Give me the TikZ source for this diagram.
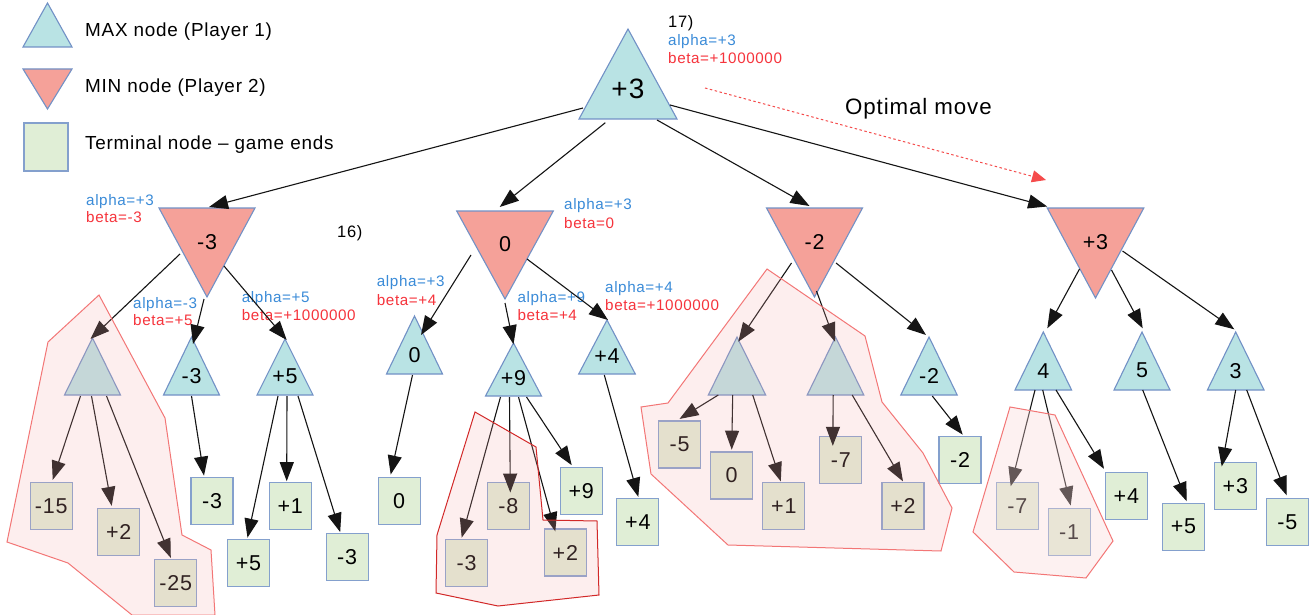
\documentclass[tikz,border=0pt]{standalone}
\usepackage{fontspec}
\setmainfont{Liberation Sans}[LetterSpace=4]
\usetikzlibrary{arrows.meta,calc}

\definecolor{maxfill}{RGB}{185,227,228}
\definecolor{minfill}{RGB}{245,161,153}
\definecolor{termfill}{RGB}{224,238,214}
\definecolor{shapeline}{RGB}{114,145,198}
\definecolor{boxline}{RGB}{132,160,205}
\definecolor{alphablue}{RGB}{58,139,216}
\definecolor{betared}{RGB}{246,52,60}
\definecolor{prunefill}{RGB}{245,170,170}
\definecolor{prunelight}{RGB}{252,215,215}
\definecolor{pruneline}{RGB}{243,118,118}
\definecolor{prunedark}{RGB}{210,40,40}
\definecolor{optred}{RGB}{245,75,75}

\tikzset{
  maxshape/.style={fill=maxfill, draw=shapeline, line width=1.1pt},
  minshape/.style={fill=minfill, draw=shapeline, line width=1.1pt},
  vallabel/.style={inner sep=0pt, font=\fontsize{21.5}{25}\selectfont},
  rootlabel/.style={font=\fontsize{28}{32}\selectfont},
  term/.style={draw=boxline, fill=termfill, line width=1.3pt, minimum width=42pt,
    minimum height=47pt, inner sep=0pt, font=\fontsize{21.5}{25}\selectfont},
  txt/.style={inner sep=0pt, anchor=base west},
  legendtxt/.style={txt, font=\fontsize{18.9}{22}\selectfont},
  abtxt/.style={txt, font=\fontsize{15.2}{18}\selectfont},
  alphatxt/.style={abtxt, text=alphablue},
  betatxt/.style={abtxt, text=betared},
  steptxt/.style={txt, font=\fontsize{16.5}{20}\selectfont},
  arr/.style={draw=black!92, line width=1.1pt, -{Triangle[length=19pt,width=14pt]}},
  optarrow/.style={draw=optred, line width=1pt, dash pattern=on 2.5pt off 2.5pt,
    -{Triangle[length=14pt,width=12pt]}},
  prune/.style={fill=prunefill, fill opacity=0.2, draw=pruneline, line width=1pt},
  prunestrong/.style={fill=prunefill, fill opacity=0.2, draw=prunedark, line width=1pt},
  prunesoft/.style={fill=prunelight, fill opacity=0.35, draw=pruneline, line width=1pt},
}

% MAX triangle (apex up): [label style]{name}{x}{y apex}{y base}{half width}{value}
\newcommand\maxtri[7][]{%
  \coordinate (#2-a) at (#3,#4);
  \coordinate (#2-l) at ({#3-#6},#5);
  \coordinate (#2-r) at ({#3+#6},#5);
  \path[maxshape] (#2-a) -- (#2-l) -- (#2-r) -- cycle;
  \node[vallabel,#1] (#2) at (#3,{#4+2*(#5-#4)/3}) {#7};
}
% MIN triangle (apex down): {name}{x}{y top}{y apex}{half width}{value}
\newcommand\mintri[6]{%
  \coordinate (#1-l) at ({#2-#5},#3);
  \coordinate (#1-r) at ({#2+#5},#3);
  \coordinate (#1-b) at (#2,#4);
  \path[minshape] (#1-l) -- (#1-r) -- (#1-b) -- cycle;
  \node[vallabel] (#1) at (#2,{#3+0.38*(#4-#3)}) {#6};
}

\begin{document}
\begin{tikzpicture}[x=1pt,y=-1pt]
\useasboundingbox (0,0) rectangle (1312,615);
\fill[white] (0,0) rectangle (1312,615);

% ---- legend ----
\maxtri{lgmax}{47.5}{3}{47}{24.5}{}
\mintri{lgmin}{47.5}{69}{109}{24.5}{}
\node[term, minimum width=44pt, minimum height=48pt] (lgterm) at (46,147) {};
\node[legendtxt] (lgmaxtxt) at (85,36.7) {MAX node (Player 1)};
\node[legendtxt] (lgmintxt) at (85,92.7) {MIN node (Player 2)};
\node[legendtxt] (lgtermtxt) at (85,149.3) {Terminal node – game ends};

% ---- tree nodes ----
\maxtri[rootlabel]{r}{628}{29}{119}{49}{+3}

\mintri{m1}{207}{208}{297}{48}{-3}
\mintri{m2}{505}{211}{299}{48.3}{0}
\mintri{m3}{814.5}{208}{297}{48}{-2}
\mintri{m4}{1095.5}{208}{298}{48.3}{+3}

\maxtri{g1}{92.5}{338}{395}{28}{}
\maxtri{c12}{191.5}{337}{395}{28}{-3}
\maxtri{c13}{285}{339}{395}{28}{+5}
\maxtri{c21}{414.5}{316}{374}{28}{0}
\maxtri{c22}{513.5}{343}{396}{28}{+9}
\maxtri{c23}{607}{320}{374}{28.3}{+4}
\maxtri{g31}{737}{337}{395}{28.7}{}
\maxtri{g32}{835.5}{337}{395}{28.3}{}
\maxtri{c33}{929}{337}{395}{28.2}{-2}
\maxtri{c41}{1043.3}{332}{390}{28.3}{4}
\maxtri{c42}{1142}{332}{390}{28}{5}
\maxtri{c43}{1235.7}{332}{390}{28.3}{3}

% terminal positions
\node[term] (t1) at (51.2,506) {-15};
\node[term] (t2) at (118.7,532) {+2};
\node[term] (t3) at (175.8,583) {-25};
\node[term] (t4) at (212,501.3) {-3};
\node[term] (t5) at (248.5,562.8) {+5};
\node[term] (t6) at (290.2,506.3) {+1};
\node[term] (t7) at (347.2,557.2) {-3};
\node[term] (t8) at (399.2,501.2) {0};
\node[term] (t9) at (466.7,562.8) {-3};
\node[term] (t10) at (508.3,506.2) {-8};
\node[term] (t11) at (565.3,552.5) {+2};
\node[term] (t12) at (581.2,490.8) {+9};
\node[term] (t13) at (637.8,521.7) {+4};
\node[term] (t14) at (679.5,444.5) {-5};
\node[term] (t15) at (731.7,475.5) {0};
\node[term] (t16) at (783.8,506.2) {+1};
\node[term] (t17) at (840.8,460) {-7};
\node[term] (t18) at (903,506.2) {+2};
\node[term] (t19) at (960,460) {-2};
\node[term] (t20) at (1017.3,506.2) {-7};
\node[term] (t21) at (1069.2,532) {-1};
\node[term] (t22) at (1126.3,496.2) {+4};
\node[term] (t23) at (1183.5,526.7) {+5};
\node[term] (t24) at (1235.3,485.8) {+3};
\node[term] (t25) at (1287.3,522) {-5};

% ---- annotations ----
\node[steptxt] (s17) at (668,27.5) {17)};
\node[alphatxt] (ra) at (668,45.5) {alpha=+3};
\node[betatxt] (rb) at (668,63.5) {beta=+1000000};
\node[txt, font=\fontsize{22.3}{27}\selectfont] (opt) at (845,115) {Optimal move};
\node[steptxt] (s16) at (337,237.5) {16)};

\node[alphatxt] (m1a) at (86,205.5) {alpha=+3};
\node[betatxt] (m1b) at (86,222) {beta=-3};
\node[alphatxt] (c12a) at (133,308) {alpha=-3};
\node[betatxt] (c12b) at (133,325) {beta=+5};
\node[alphatxt] (c13a) at (241.7,302) {alpha=+5};
\node[betatxt] (c13b) at (241.7,320.5) {beta=+1000000};
\node[alphatxt] (m2a) at (564,209.5) {alpha=+3};
\node[betatxt] (m2b) at (564,228) {beta=0};
\node[alphatxt] (c21a) at (376.7,286) {alpha=+3};
\node[betatxt] (c21b) at (376.7,305) {beta=+4};
\node[alphatxt] (c22a) at (517.3,302) {alpha=+9};
\node[betatxt] (c22b) at (517.3,320.5) {beta=+4};
\node[alphatxt] (c23a) at (605,292) {alpha=+4};
\node[betatxt] (c23b) at (605,310.5) {beta=+1000000};

% ---- connectors ----
% root
\draw[arr] ([shift={(4,-11)}]r-l) -- ([shift={(50,-1)}]m1-l);
\draw[arr, shorten <=6pt] ([shift={(31,0)}]r-l) -- ([shift={(43,-4)}]m2-l);
\draw[arr] ([shift={(78,1)}]r-l) -- ([shift={(43,-2)}]m3-l);
\draw[arr] ([shift={(-7,-14)}]r-r) -- ([shift={(0,-1.5)}]m4-l);
% first MIN node
\draw[arr] ([shift={(-27,-43)}]m1-b) -- ([shift={(-2,1)}]g1-a);
\draw[arr] ([shift={(-3,2)}]m1-b) -- ([shift={(1.5,7)}]c12-a);
\draw[arr] ([shift={(17,-31)}]m1-b) -- ([shift={(1.7,1)}]c13-a);
\draw[arr] ([shift={(16,1)}]g1-l) -- ([shift={(1.5,-2)}]t1.north);
\draw[arr] ([shift={(27,1)}]g1-l) -- ([shift={(-7,-2)}]t2.north);
\draw[arr] ([shift={(42,1)}]g1-l) -- ([shift={(-5,-1)}]t3.north);
\draw[arr] ([shift={(28,1)}]c12-l) -- ([shift={(-8,-1.5)}]t4.north);
\draw[arr] ([shift={(21,1)}]c13-l) -- ([shift={(-1,-1)}]t5.north);
\draw[arr] ([shift={(30,1)}]c13-l) -- ([shift={(-3.5,-1)}]t6.north);
\draw[arr] ([shift={(41,1)}]c13-l) -- ([shift={(-7,-1)}]t7.north);
% second MIN node
\draw[arr] ([shift={(-34,-44)}]m2-b) -- ([shift={(6.5,19)}]c21-a);
\draw[arr] ([shift={(0,4)}]m2-b) -- ([shift={(0,1.3)}]c22-a);
\draw[arr] ([shift={(22,-40)}]m2-b) -- ([shift={(1,0)}]c23-a);
\draw[arr] ([shift={(26,1)}]c21-l) -- ([shift={(-8.5,-2.5)}]t8.north);
\draw[arr] ([shift={(15,1)}]c22-l) -- ([shift={(-5,-1)}]t9.north);
\draw[arr] ([shift={(24,1)}]c22-l) -- ([shift={(2,10.5)}]t10.north);
\draw[arr] ([shift={(33,1)}]c22-l) -- ([shift={(-10,3)}]t11.north);
\draw[arr] ([shift={(41,1)}]c22-l) -- ([shift={(-9.5,-1.5)}]t12.north);
\draw[arr] ([shift={(25.6,1)}]c23-l) -- ([shift={(0.5,-0.7)}]t13.north);
% third MIN node
\draw[arr] ([shift={(-23,-34)}]m3-b) -- ([shift={(1.3,4.7)}]g31-a);
\draw[arr] ([shift={(2,-6)}]m3-b) -- ([shift={(-0.5,4.7)}]g32-a);
\draw[arr] ([shift={(21.5,-34)}]m3-b) -- ([shift={(-3,-2)}]c33-a);
\draw[arr] ([shift={(10,0)}]g31-l) -- ([shift={(0,-1.4)}]t14.north);
\draw[arr] ([shift={(24.4,0)}]g31-l) -- ([shift={(0,-1.7)}]t15.north);
\draw[arr] ([shift={(44.4,0)}]g31-l) -- ([shift={(-3,-0.7)}]t16.north);
\draw[arr] ([shift={(26,0)}]g32-l) -- ([shift={(-8,10)}]t17.north);
\draw[arr] ([shift={(45,0)}]g32-l) -- ([shift={(0,-0.7)}]t18.north);
\draw[arr] ([shift={(31.5,1)}]c33-l) -- ([shift={(2.7,-1.2)}]t19.north);
% fourth MIN node
\draw[arr] ([shift={(-16,-29)}]m4-b) -- ([shift={(4,-3.7)}]c41-a);
\draw[arr] ([shift={(16,-28)}]m4-b) -- ([shift={(0.7,-3.7)}]c42-a);
\draw[arr] ([shift={(27,-47)}]m4-b) -- ([shift={(-1.4,-2.7)}]c43-a);
\draw[arr] ([shift={(20,0)}]c41-l) -- ([shift={(-6.6,4.2)}]t20.north);
\draw[arr] ([shift={(27.7,0)}]c41-l) -- ([shift={(1.5,-2.3)}]t21.north);
\draw[arr] ([shift={(41,0)}]c41-l) -- ([shift={(-22.3,-3.2)}]t22.north);
\draw[arr] ([shift={(28.7,0)}]c42-l) -- ([shift={(3.2,-1.3)}]t23.north);
\draw[arr] ([shift={(28.3,0)}]c43-l) -- ([shift={(-13.6,4.8)}]t24.north);
\draw[arr] ([shift={(39.3,0)}]c43-l) -- ([shift={(-0.6,-2.5)}]t25.north);

% optimal move hint
\coordinate (opt-s) at (705,88);
\coordinate (opt-e) at (1046,180);
\draw[optarrow] (opt-s) -- (opt-e);

% ---- pruned branches ----
\path[prune] (99,295) -- (165,418) -- (182,535) -- (211,550) -- (215,615)
  -- (132,615) -- (68,563) -- (7,542) -- (48,342) -- cycle;
\path[prunestrong] (475,412) -- (536,447) -- (543,520) -- (597,521) -- (599,595)
  -- (498,606) -- (436,593) -- (437,535) -- cycle;
\path[prune] (767,269) -- (865,336) -- (882,402) -- (923,453) -- (952,508)
  -- (941,551) -- (728,545) -- (651,474) -- (641,407) -- (668,403) -- cycle;
\path[prunesoft] (1010,407) -- (1055,415) -- (1113,541) -- (1086,578)
  -- (1014,572) -- (973,532) -- cycle;
\end{tikzpicture}
\end{document}
